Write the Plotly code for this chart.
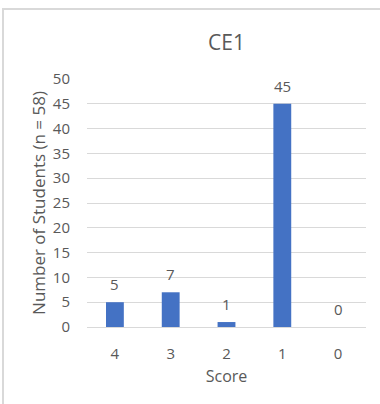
import plotly.graph_objects as go

# Score distribution for CE1
scores = ["4", "3", "2", "1", "0"]
students = [5, 7, 1, 45, 0]
y_ticks = list(range(0, 55, 5))

text_color = "#595959"
grid_color = "#d9d9d9"
bar_color = "#4472C4"
font_family = "Open Sans, sans-serif"

fig = go.Figure(
    go.Bar(
        x=scores,
        y=students,
        marker=dict(color=bar_color, line=dict(width=0)),
        width=0.32,
        hoverinfo="x+y",
    )
)

# value labels above each bar (category axes place annotations by index)
for i, v in enumerate(students):
    fig.add_annotation(
        x=i, y=v, text=str(v), showarrow=False,
        yanchor="middle", yshift=18,
        font=dict(family=font_family, size=15, color=text_color),
    )

# light outer frame of the chart area
fig.add_shape(
    type="rect", xref="paper", yref="paper",
    x0=-0.301, x1=1.2, y0=-0.5, y1=1.282,
    line=dict(color="#d9d9d9", width=2), fillcolor="rgba(0,0,0,0)",
    layer="below",
)

fig.update_layout(
    width=380, height=404,
    margin=dict(l=87, r=14, t=79, b=77),
    paper_bgcolor="white", plot_bgcolor="white",
    showlegend=False,
    title=dict(
        text="CE1", x=0.5, xanchor="center", xref="paper",
        y=1 - 43 / 404, yanchor="middle",
        font=dict(family=font_family, size=21, color=text_color),
    ),
    font=dict(family=font_family, color=text_color),
)

fig.update_xaxes(
    categoryorder="array", categoryarray=scores,
    showgrid=False, showline=False,
    ticks="outside", ticklen=13, tickcolor="rgba(0,0,0,0)",
    tickfont=dict(size=15, color=text_color),
    title=dict(text="Score", font=dict(size=16, color=text_color), standoff=8),
)

fig.update_yaxes(
    range=[0, 50], tickvals=y_ticks,
    showgrid=True, gridcolor=grid_color, gridwidth=1,
    zeroline=True, zerolinecolor=grid_color, zerolinewidth=1,
    showline=False,
    ticks="outside", ticklen=13, tickcolor="rgba(0,0,0,0)",
    tickfont=dict(size=15, color=text_color),
    title=dict(text="Number of Students (n = 58)", font=dict(size=17, color=text_color), standoff=2),
)

fig.write_html("out.html")
